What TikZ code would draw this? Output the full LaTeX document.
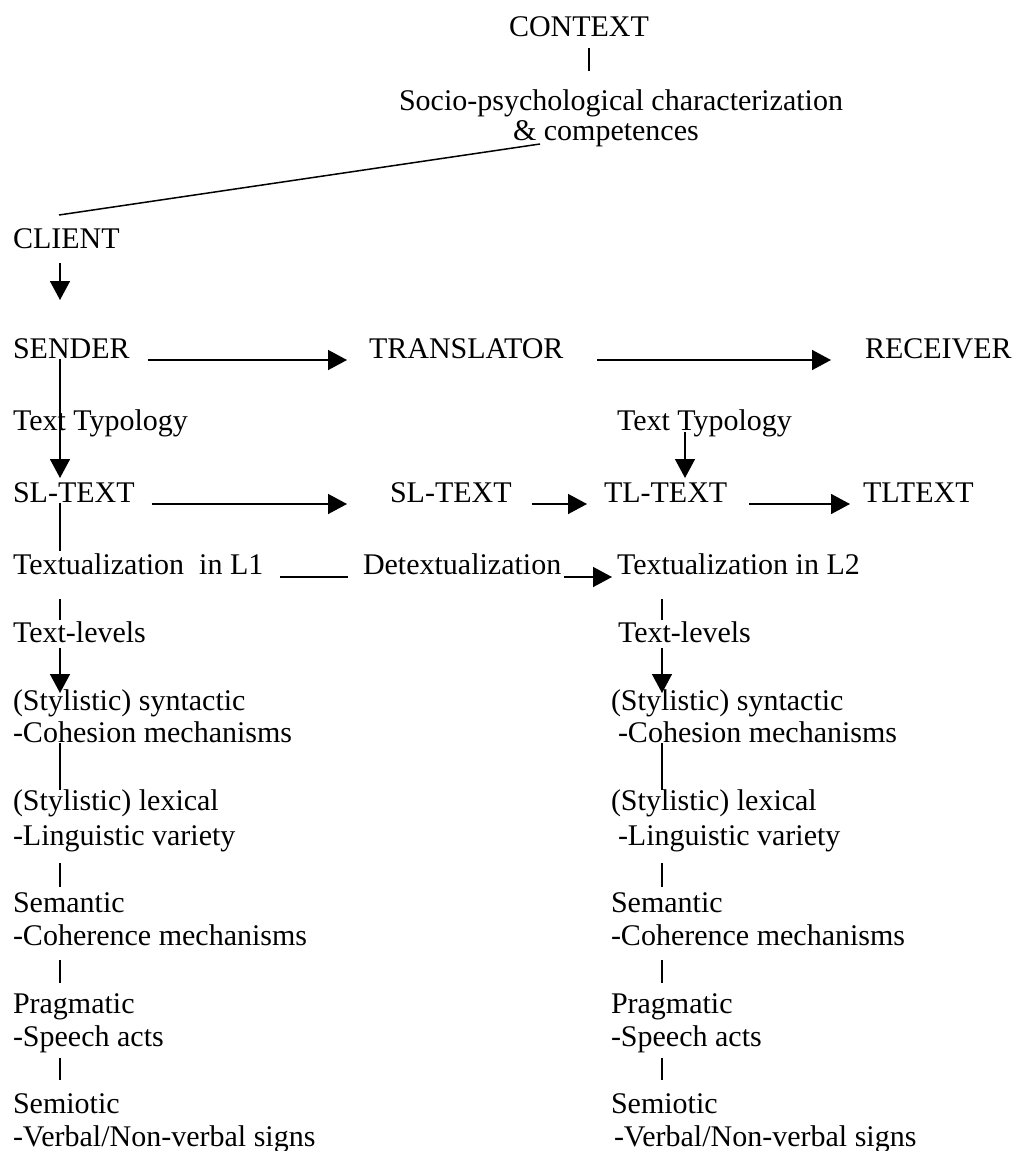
\documentclass[tikz,border=0pt]{standalone}
\usepackage{fontspec}
\setmainfont{Liberation Serif}
\usetikzlibrary{arrows.meta,calc}
\tikzset{
txt/.style  = {anchor=base west, inner sep=0pt, outer sep=0pt,
               font=\fontsize{15}{18}\selectfont},
link/.style = {line width=0.75pt},
flow/.style = {link, -{Triangle[length=9.5pt,width=10pt]}}
}

\begin{document}
\begin{tikzpicture}[x=0.5pt, y=-0.5pt]
\useasboundingbox (0,0) rectangle (1021,1151);
\coordinate (ctick) at (589,0);
\coordinate (lx) at (60,0);
\coordinate (rx) at (662,0);
\coordinate (tx) at (685,0);

\node[txt] (context)    at (509,36)  {CONTEXT};
\node[txt] (socioa)     at (399,110) {Socio-psychological characterization};
\node[txt] (sociob)     at (513,140) {\& competences};
\node[txt] (client)     at (13,248)  {CLIENT};

\node[txt] (sender)     at (13,358)  {SENDER};
\node[txt] (translator) at (369,358) {TRANSLATOR};
\node[txt] (receiver)   at (865,358) {RECEIVER};

\node[txt] (typoL)      at (13,430)  {Text Typology};
\node[txt] (typoR)      at (617,430) {Text Typology};

\node[txt] (sltextL)    at (13,502)  {SL-TEXT};
\node[txt] (sltextM)    at (390,502) {SL-TEXT};
\node[txt] (tltext)     at (604,502) {TL-TEXT};
\node[txt] (tltextR)    at (863,502) {TLTEXT};

\node[txt] (textL)      at (13,574)  {Textualization\ \ in L1};
\node[txt] (detext)     at (363,574) {Detextualization};
\node[txt] (textR)      at (617,574) {Textualization in L2};

% left column
\node[txt] (levelsL)    at (13,642)  {Text-levels};
\node[txt] (syntL)      at (13,710)  {(Stylistic) syntactic};
\node[txt] (cohesL)     at (13,742)  {-Cohesion mechanisms};
\node[txt] (lexL)       at (13,810)  {(Stylistic) lexical};
\node[txt] (varL)       at (13,845)  {-Linguistic variety};
\node[txt] (semL)       at (13,912)  {Semantic};
\node[txt] (coherL)     at (13,945)  {-Coherence mechanisms};
\node[txt] (pragL)      at (13,1013) {Pragmatic};
\node[txt] (actsL)      at (13,1046) {-Speech acts};
\node[txt] (semioL)     at (13,1113) {Semiotic};
\node[txt] (signsL)     at (13,1146) {-Verbal/Non-verbal signs};

% right column
\node[txt] (levelsR)    at (618,642) {Text-levels};
\node[txt] (syntR)      at (611,710) {(Stylistic) syntactic};
\node[txt] (cohesR)     at (618,742) {-Cohesion mechanisms};
\node[txt] (lexR)       at (611,810) {(Stylistic) lexical};
\node[txt] (varR)       at (618,845) {-Linguistic variety};
\node[txt] (semR)       at (611,912) {Semantic};
\node[txt] (coherR)     at (611,945) {-Coherence mechanisms};
\node[txt] (pragR)      at (611,1013) {Pragmatic};
\node[txt] (actsR)      at (611,1046) {-Speech acts};
\node[txt] (semioR)     at (611,1113) {Semiotic};
\node[txt] (signsR)     at (614,1146) {-Verbal/Non-verbal signs};

% top
\draw[link, shorten <=6pt, shorten >=19.5pt] (context.base -| ctick) -- (socioa.base -| ctick);
\draw[link] ($(sociob.base west)+(27,4)$) -- ($(client.base west)+(46,-33)$);
\draw[flow, shorten <=7.5pt, shorten >=29pt] (client.base -| lx) -- (sender.base -| lx);

% horizontal
\draw[flow, shorten <=9pt, shorten >=11pt]     ([yshift=-1pt]sender.base east) -- ([yshift=-1pt]translator.base west);
\draw[flow, shorten <=17pt, shorten >=17pt]    ([yshift=-1pt]translator.base east) -- ([yshift=-1pt]receiver.base west);
\draw[flow, shorten <=8.5pt, shorten >=21.5pt] ([yshift=-1pt]sltextL.base east) -- ([yshift=-1pt]sltextM.base west);
\draw[flow, shorten <=10pt, shorten >=8.5pt]   ([yshift=-1pt]sltextM.base east) -- ([yshift=-1pt]tltext.base west);
\draw[flow, shorten <=11pt, shorten >=6.5pt]   ([yshift=-1pt]tltext.base east) -- ([yshift=-1pt]tltextR.base west);
\draw[link, shorten <=8.5pt, shorten >=7.5pt]  ([yshift=-1.5pt]textL.base east) -- ([yshift=-1.5pt]detext.base west);
\draw[flow, shorten <=1.5pt, shorten >=2.5pt]  ([yshift=-1.5pt]detext.base east) -- ([yshift=-1.5pt]textR.base west);

% left spine
\draw[flow, shorten <=0.5pt, shorten >=12pt]   (sender.base -| lx) -- (sltextL.base -| lx);
\draw[link, shorten <=0.5pt, shorten >=11.5pt] (sltextL.base -| lx) -- (textL.base -| lx);
\draw[link, shorten <=12.5pt, shorten >=11pt]  (textL.base -| lx) -- (levelsL.base -| lx);
\draw[flow, shorten <=3pt, shorten >=8.5pt]    (levelsL.base -| lx) -- (syntL.base -| lx);
\draw[link, shorten <=0.5pt, shorten >=10pt]   (cohesL.base -| lx) -- (lexL.base -| lx);

% right spine
\draw[flow, shorten <=1pt, shorten >=12pt]     (typoR.base -| tx) -- (tltext.base -| tx);
\draw[link, shorten <=12.5pt, shorten >=11pt]  (textR.base -| rx) -- (levelsR.base -| rx);
\draw[flow, shorten <=3pt, shorten >=8.5pt]    (levelsR.base -| rx) -- (syntR.base -| rx);
\draw[link, shorten <=0.5pt, shorten >=10pt]   (cohesR.base -| rx) -- (lexR.base -| rx);

% short ticks further down
\foreach \a/\b/\s/\e in {var/sem/9/12.5, coher/prag/7.5/15, acts/semio/6/16.5} {
    \draw[link, shorten <=\s pt, shorten >=\e pt] (\a L.base -| lx) -- (\b L.base -| lx);
    \draw[link, shorten <=\s pt, shorten >=\e pt] (\a R.base -| rx) -- (\b R.base -| rx);
}
\end{tikzpicture}
\end{document}
